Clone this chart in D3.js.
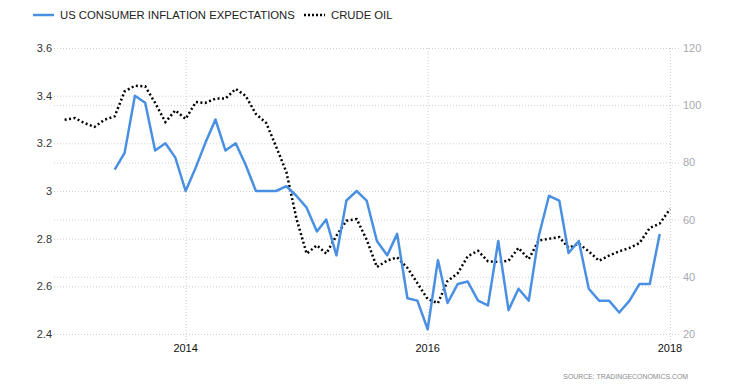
<!DOCTYPE html>
<html>
<head>
<meta charset="utf-8">
<script src="https://cdn.jsdelivr.net/npm/d3@7"></script>
<style>
    body { margin: 0; background: #fff; }
    #chart { width: 747px; height: 385px; }
    .label { font-family: "Liberation Sans", Arial, sans-serif; }
    .grid line { stroke: #cfcfcf; stroke-dasharray: 1,2; }
    .grid path { display: none; }
</style>
</head>
<body>
<div id="chart"></div>
<script>
// Crude oil, monthly, 2013-01 .. 2018-01
const crudeStart = '2013-01';
const crudeOil = [
    94.9, 95.5, 93.8, 92.4, 94.9, 96.1, 104.8, 106.8, 106.6, 100.8, 94.1, 98.2,
    95.2, 101.1, 100.8, 102.3, 102.3, 105.7, 103.3, 96.9, 93.8, 85.5, 76.6, 60.5,
    48.1, 51.0, 48.1, 54.4, 59.6, 60.2, 53.0, 43.4, 45.7, 46.8, 43.1, 37.8,
    32.2, 30.8, 38.5, 41.3, 47.2, 49.1, 45.4, 45.2, 45.6, 50.1, 46.2, 52.7,
    53.3, 53.9, 50.1, 51.6, 48.9, 45.6, 47.4, 48.9, 50.1, 51.8, 57.1, 58.6,
    63.7
];

// US consumer inflation expectations, monthly, 2013-06 .. 2017-12
const inflStart = '2013-06';
const inflation = [
    3.09, 3.16, 3.40, 3.37, 3.17, 3.20, 3.14,
    3.00, 3.10, 3.20, 3.30, 3.17, 3.20, 3.11, 3.00, 3.00, 3.00, 3.02, 2.98,
    2.93, 2.83, 2.88, 2.73, 2.96, 3.00, 2.96, 2.79, 2.73, 2.82, 2.55, 2.54,
    2.42, 2.71, 2.53, 2.61, 2.62, 2.54, 2.52, 2.79, 2.50, 2.59, 2.54, 2.81,
    2.98, 2.96, 2.74, 2.79, 2.59, 2.54, 2.54, 2.49, 2.54, 2.61, 2.61, 2.82
];

const leftTicks = [2.4, 2.6, 2.8, 3.0, 3.2, 3.4, 3.6];
const rightTicks = [20, 40, 60, 80, 100, 120];
const yearTicks = ['2014', '2016', '2018'];
const seriesNames = ['US CONSUMER INFLATION EXPECTATIONS', 'CRUDE OIL'];
const sourceText = 'SOURCE: TRADINGECONOMICS.COM';

const parseMonth = d3.timeParse('%Y-%m');
const parseYear = d3.timeParse('%Y');

function monthly(start, values) {
    let t0 = parseMonth(start);
    return values.map(function(v, i) { return {x: d3.timeMonth.offset(t0, i), y: v}; });
}

const cfg = {
    'left': 54, 'right': 670, 'top': 48, 'bottom': 334,
    'blue': '#4a90e2',
    'xStart': '2012-11-30', 'xEnd': '2018-01-01'
};

const svg = d3.select('#chart').append('svg')
    .attr('width', 747)
    .attr('height', 385);

const xScale = d3.scaleTime()
    .domain([d3.timeParse('%Y-%m-%d')(cfg.xStart), d3.timeParse('%Y-%m-%d')(cfg.xEnd)])
    .range([cfg.left, cfg.right]);
const yLeft = d3.scaleLinear().domain([2.4, 3.6]).range([cfg.bottom, cfg.top]);
const yRight = d3.scaleLinear().domain([20, 120]).range([cfg.bottom, cfg.top]);

// GRIDLINES (right axis first, then left axis, then years)
svg.append('g')
    .attr('class', 'grid grid--right')
    .attr('transform', 'translate(' + cfg.left + ',0)')
    .call(d3.axisRight(yRight).tickValues(rightTicks).tickSize(cfg.right + 10 - cfg.left).tickFormat(''));

svg.append('g')
    .attr('class', 'grid grid--left')
    .attr('transform', 'translate(' + cfg.right + ',0)')
    .call(d3.axisLeft(yLeft).tickValues(leftTicks).tickSize(cfg.right - cfg.left).tickFormat(''));

svg.append('g')
    .attr('class', 'grid grid--x')
    .attr('transform', 'translate(0,' + cfg.top + ')')
    .call(d3.axisBottom(xScale)
        .tickValues(yearTicks.map(parseYear))
        .tickSize(cfg.bottom - cfg.top + 10)
        .tickFormat(''));

// AXIS LABELS
svg.append('g').selectAll('text')
    .data(leftTicks).enter()
    .append('text')
    .attr('class', 'label')
    .attr('x', 52)
    .attr('y', function(d) { return yLeft(d) + 4; })
    .attr('text-anchor', 'end')
    .attr('font-size', '11px')
    .attr('fill', '#333')
    .text(function(d) { return d3.format('~g')(d); });

svg.append('g').selectAll('text')
    .data(rightTicks).enter()
    .append('text')
    .attr('class', 'label')
    .attr('x', 683)
    .attr('y', function(d) { return yRight(d) + 4; })
    .attr('font-size', '11px')
    .attr('fill', '#a8a8b4')
    .text(function(d) { return d; });

svg.append('g').selectAll('text')
    .data(yearTicks).enter()
    .append('text')
    .attr('class', 'label')
    .attr('x', function(d) { return xScale(parseYear(d)); })
    .attr('y', 352)
    .attr('text-anchor', 'middle')
    .attr('font-size', '11px')
    .attr('fill', '#111')
    .text(function(d) { return d; });

// LINES
const lineL = d3.line()
    .x(function(d) { return xScale(d.x); })
    .y(function(d) { return yLeft(d.y); });
const lineR = d3.line()
    .x(function(d) { return xScale(d.x); })
    .y(function(d) { return yRight(d.y); });

svg.append('path')
    .attr('class', 'line line--crude')
    .attr('d', lineR(monthly(crudeStart, crudeOil)))
    .attr('fill', 'none')
    .attr('stroke', '#000')
    .attr('stroke-width', 2.5)
    .attr('stroke-dasharray', '2,2.5');

svg.append('path')
    .attr('class', 'line line--infl')
    .attr('d', lineL(monthly(inflStart, inflation)))
    .attr('fill', 'none')
    .attr('stroke', cfg.blue)
    .attr('stroke-width', 2.5)
    .attr('stroke-linejoin', 'round');

// LEGEND
const legend = svg.append('g').attr('class', 'legend');
legend.append('line')
    .attr('x1', 33).attr('x2', 54).attr('y1', 15).attr('y2', 15)
    .attr('stroke', cfg.blue).attr('stroke-width', 2.5);
legend.append('text')
    .attr('class', 'label')
    .attr('x', 60).attr('y', 19)
    .attr('font-size', '11.3px').attr('fill', '#222')
    .text(seriesNames[0]);
legend.append('line')
    .attr('x1', 304).attr('x2', 325).attr('y1', 15).attr('y2', 15)
    .attr('stroke', '#000').attr('stroke-width', 2.5)
    .attr('stroke-dasharray', '2,2');
legend.append('text')
    .attr('class', 'label')
    .attr('x', 331).attr('y', 19)
    .attr('font-size', '11.3px').attr('fill', '#222')
    .text(seriesNames[1]);

// SOURCE
svg.append('text')
    .attr('class', 'label')
    .attr('x', 688).attr('y', 379)
    .attr('text-anchor', 'end')
    .attr('font-size', '6.9px')
    .attr('fill', '#8a8a8a')
    .text(sourceText);
</script>
</body>
</html>
